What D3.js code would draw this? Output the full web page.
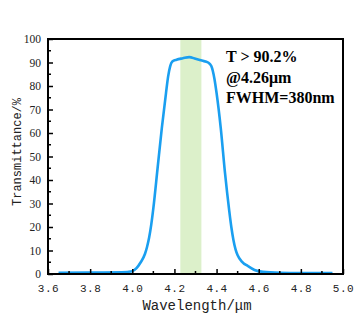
<!DOCTYPE html>
<html><head><meta charset="utf-8">
<script src="https://cdn.jsdelivr.net/npm/d3@7"></script>
<style>html,body{margin:0;padding:0;background:#fff;}</style>
</head><body>
<svg id="c" width="356" height="331"></svg>
<script>
const wavelength = [3.65,3.80,3.95,4.00,4.02,4.04,4.06,4.07,4.08,4.09,4.10,4.12,4.14,4.16,4.17,4.18,4.19,4.21,4.24,4.27,4.30,4.33,4.36,4.375,4.39,4.40,4.42,4.44,4.46,4.47,4.48,4.49,4.50,4.52,4.55,4.58,4.62,4.70,4.80,4.95];
const transmittance = [0.5,0.6,0.7,1.2,2.5,5.0,8.5,11.5,15.5,21,28,45,62,77,84,88.5,90.4,91.2,91.8,92.3,91.6,90.8,90.0,88.5,83,77,62,43,27,20,14.5,10.5,8,5.3,3.3,1.7,0.9,0.5,0.4,0.4];
const xTicks = [3.6,3.8,4.0,4.2,4.4,4.6,4.8,5.0];
const yTicks = [0,10,20,30,40,50,60,70,80,90,100];
const band = [4.228,4.328];
const notes = ["T > 90.2%","@4.26μm","FWHM=380nm"];

const L=48,R=343,T=39,B=274;
const svg=d3.select("#c");
const x=d3.scaleLinear().domain([3.6,5.0]).range([L,R]);
const y=d3.scaleLinear().domain([0,100]).range([B,T]);

svg.append("rect").attr("x",x(band[0])).attr("y",T).attr("width",x(band[1])-x(band[0])).attr("height",B-T).attr("fill","#dcf0ca");

const pts=wavelength.map((w,i)=>[w,transmittance[i]]);
svg.append("path").datum(pts).attr("fill","none").attr("stroke","#1a9ff0").attr("stroke-width",2.6)
  .attr("d",d3.line().x(d=>x(d[0])).y(d=>y(d[1])).curve(d3.curveMonotoneX));

// minor ticks
const xMinor=d3.range(3.7,5.0,0.2);
svg.append("g").selectAll("line").data(xMinor).join("line").attr("x1",d=>x(d)).attr("x2",d=>x(d)).attr("y1",B).attr("y2",B-3).attr("stroke","#000").attr("stroke-width",1.5);
const yMinor=d3.range(5,100,10);
svg.append("g").selectAll("line").data(yMinor).join("line").attr("x1",L).attr("x2",L+3).attr("y1",d=>y(d)).attr("y2",d=>y(d)).attr("stroke","#000").attr("stroke-width",1.5);

const xa=svg.append("g").attr("transform",`translate(0,${B})`)
  .call(d3.axisBottom(x).tickValues(xTicks).tickFormat(d3.format(".1f")).tickSizeInner(-5).tickSizeOuter(0).tickPadding(10));
xa.select(".domain").remove();
xa.selectAll("line").attr("stroke-width",1.5);
xa.selectAll("text").attr("font-family","Liberation Mono").attr("font-size",11).attr("letter-spacing","0.5px").attr("fill","#222");

const ya=svg.append("g").attr("transform",`translate(${L},0)`)
  .call(d3.axisLeft(y).tickValues(yTicks).tickSizeInner(-5).tickSizeOuter(0).tickPadding(7));
ya.select(".domain").remove();
ya.selectAll("line").attr("stroke-width",1.5);
ya.selectAll("text").attr("font-family","Liberation Serif").attr("font-size",11.5).attr("fill","#222");

svg.append("rect").attr("x",L).attr("y",T).attr("width",R-L).attr("height",B-T).attr("fill","none").attr("stroke","#000").attr("stroke-width",2);

svg.append("text").attr("x",197).attr("y",310).attr("text-anchor","middle").attr("font-family","Liberation Mono").attr("font-size",14).attr("fill","#222").text("Wavelength/μm");
svg.append("text").attr("transform","translate(21,152) rotate(-90)").attr("text-anchor","middle").attr("font-family","Liberation Mono").attr("font-size",12).attr("fill","#222").text("Transmittance/%");

svg.append("g").selectAll("text").data(notes).join("text").attr("x",226).attr("y",(d,i)=>62+i*20.5)
  .attr("font-family","Liberation Serif").attr("font-weight","bold").attr("font-size",16).text(d=>d);
</script>
</body></html>
